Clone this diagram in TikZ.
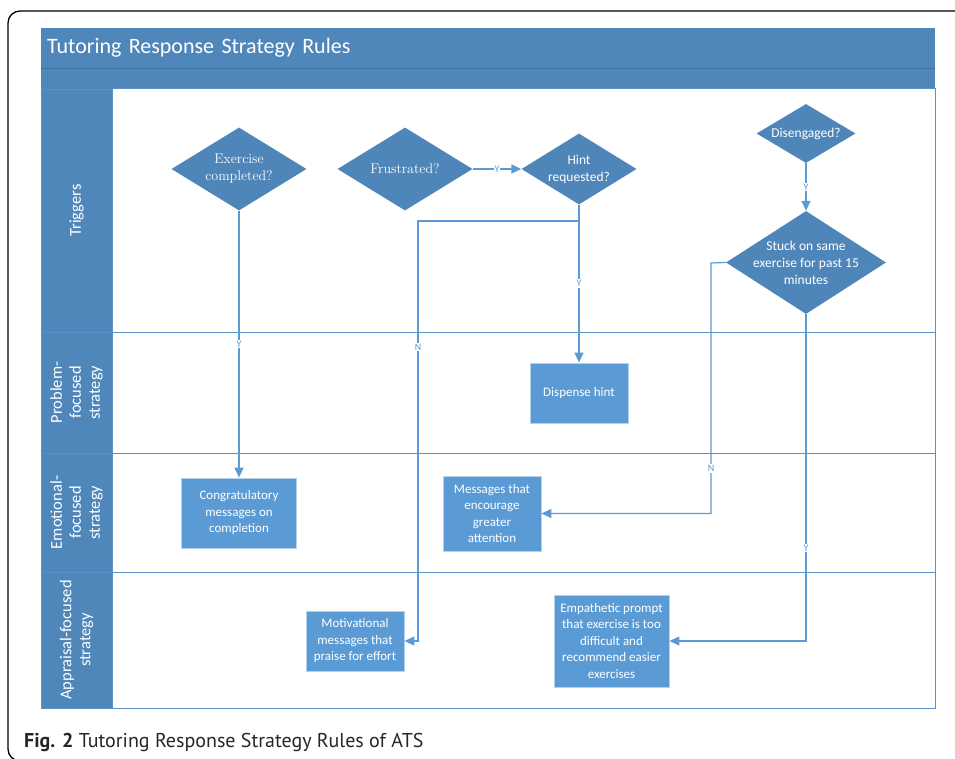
\documentclass[tikz,border=0pt]{standalone}
\usepackage{fontspec}
\newfontfamily\calibri{Carlito}
\newfontfamily\capfont{PT Sans}
\usetikzlibrary{shapes.geometric,arrows.meta}

\definecolor{headblue}{HTML}{4F87BA}
\definecolor{diablue}{HTML}{4F86B9}
\definecolor{boxblue}{HTML}{5B9BD5}
\definecolor{flowblue}{HTML}{5B9BD5}
\definecolor{lineblue}{HTML}{5A8FC8}
\definecolor{darkblue}{HTML}{41719C}

\begin{document}
\begin{tikzpicture}[%
			x=1pt, y=-1pt,
			every node/.style={align=center},
			pooltitle/.style={fill=headblue, text=white, anchor=north west, inner xsep=6pt, inner ysep=0pt,
				minimum width=894pt, minimum height=40pt, text width=882pt, align=left,
				font=\calibri\fontsize{22}{26}\selectfont},
			lanehead/.style={fill=headblue, draw=lineblue, rotate=90, text=white, minimum height=71pt, inner sep=0pt,
				font=\calibri\fontsize{16.5}{19}\selectfont},
			lanebody/.style={draw=lineblue, line width=1pt},
			decision/.style={diamond, fill=diablue, inner sep=0pt},
			dtext/.style={text=white, inner sep=0pt, font=\calibri\fontsize{13.5}{17}\selectfont},
			stext/.style={text=white, inner sep=0pt, font=\fontsize{14}{17}\selectfont},
			action/.style={rectangle, fill=boxblue, draw=boxblue!45!white, line width=0.8pt, text=white, inner sep=1pt,
				font=\calibri\fontsize{13}{16.5}\selectfont},
			flow/.style={draw=flowblue, line width=1.2pt, -{Triangle[length=10pt,width=9pt]}},
			yn/.style={fill=white, text=flowblue, inner sep=1pt, font=\calibri\fontsize{10}{11}\selectfont}
			]
			\useasboundingbox (0,0) rectangle (955,759);
			\draw[line width=1.3pt, rounded corners=12pt] (8,761) rectangle (975,11);

			% pool and lanes
			\node[pooltitle] (title) at (41,28) {Tutoring Response Strategy Rules};
			\fill[headblue] (41,68) rectangle (935,89);
			\draw[darkblue, line width=0.8pt] (41,68) -- (935,68);
			\draw[lanebody] (112,89) rectangle (935,332);
			\draw[lanebody] (112,332) rectangle (935,453);
			\draw[lanebody] (112,453) rectangle (935,572);
			\draw[lanebody] (112,572) rectangle (935,708);
			\node[lanehead, minimum width=243pt] (trig) at (76.5,210.5) {Triggers};
			\node[lanehead, minimum width=121pt] (prob) at (76.5,392.5) {Problem-\\focused\\strategy};
			\node[lanehead, minimum width=119pt] (emot) at (76.5,512.5) {Emotional-\\focused\\strategy};
			\node[lanehead, minimum width=136pt] (appr) at (76.5,640) {Appraisal-focused\\strategy};

			% triggers
			\node[decision, minimum width=135pt, minimum height=83pt] (exdone) at (239,169) {};
			\node[stext] (exdone-t) at (exdone) {Exercise\\completed?};
			\node[decision, minimum width=135pt, minimum height=83pt] (frustr) at (405,169) {};
			\node[stext] (frustr-t) at (frustr) {Frustrated?};
			\node[decision, minimum width=115pt, minimum height=71pt] (hintreq) at (579,169) {};
			\node[dtext] (hintreq-t) at (hintreq) {Hint\\requested?};
			\node[decision, minimum width=99pt, minimum height=59pt] (diseng) at (806,133.5) {};
			\node[dtext] (diseng-t) at (diseng) {Disengaged?};
			\node[decision, minimum width=160pt, minimum height=103pt] (stuck) at (806,262.5) {};
			\node[dtext] (stuck-t) at (stuck) {Stuck on same\\exercise for past 15\\minutes};

			% strategies
			\node[action, minimum width=98pt, minimum height=60pt] (hint) at (579,393) {Dispense hint};
			\node[action, minimum width=115pt, minimum height=70pt] (congrats) at (239,513) {Congratulatory\\messages on\\completion};
			\node[action, minimum width=98pt, minimum height=75pt] (encour) at (492,513.5) {Messages that\\encourage\\greater\\attention};
			\node[action, minimum width=98pt, minimum height=60pt] (motiv) at (355,641) {Motivational\\messages that\\praise for effort};
			\node[action, minimum width=115pt, minimum height=92pt] (empath) at (611.5,641) {Empathetic prompt\\that exercise is too\\difficult and\\recommend easier\\exercises};

			% connectors
			\coordinate (hintN) at (418,221);
			\coordinate (stuckN) at (711,263);
			\draw[flow] (exdone) -- node[yn]{Y} (congrats);
			\draw[flow] (frustr) -- node[yn]{Y} (hintreq);
			\draw[flow] (hintreq) -- node[yn]{Y} (hint);
			\draw[flow] (hintreq.south) |- (hintN) -- node[yn, pos=0.3]{N} (hintN |- motiv) -- (motiv.east);
			\draw[flow] (diseng) -- node[yn]{Y} (stuck);
			\draw[flow] (stuck.west) -- (stuckN) -- node[yn, pos=0.82]{N} (stuckN |- encour) -- (encour.east);
			\draw[flow] (stuck.south) -- node[yn, pos=0.716]{Y} (stuck.south |- empath) -- (empath.east);

			\node[anchor=base west, inner sep=0pt, text=black!85, font=\capfont\fontsize{20}{24}\selectfont] (caption) at (24,747)
				{\textbf{Fig. 2} Tutoring Response Strategy Rules of ATS};
		\end{tikzpicture}
\end{document}
